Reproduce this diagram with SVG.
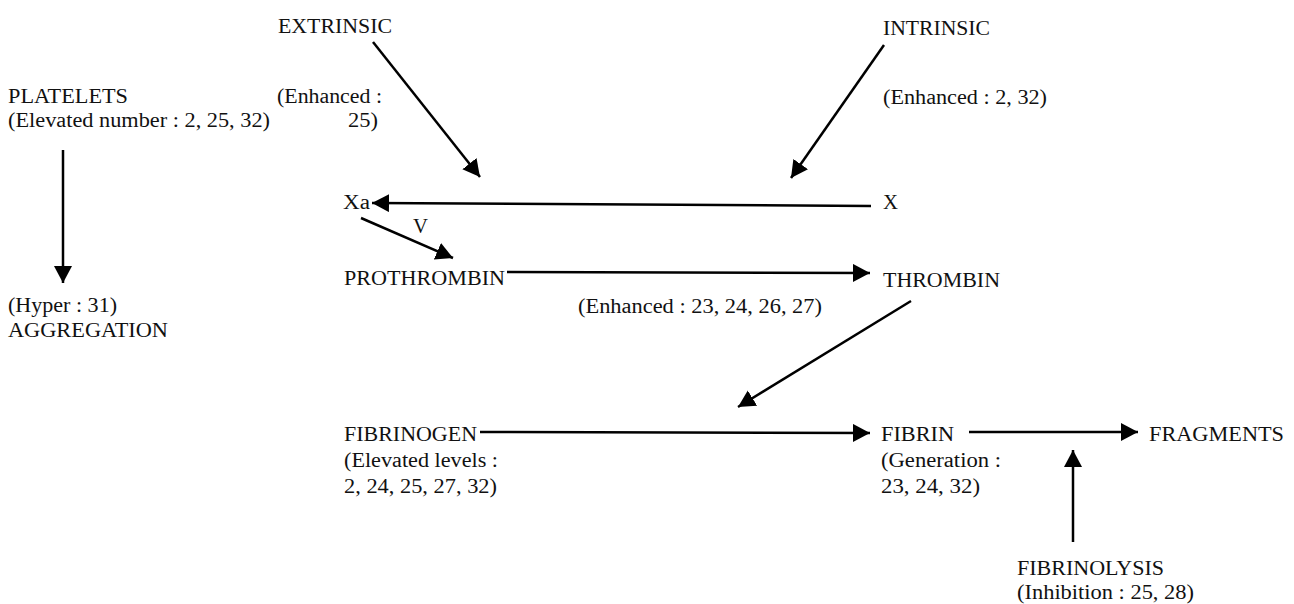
<svg xmlns="http://www.w3.org/2000/svg" width="1294" height="604" viewBox="0 0 1294 604">
<style>
text{font-family:"Liberation Serif","Times New Roman",serif;font-size:20px;fill:#111}
.c line{stroke:#000;stroke-width:2.5}
</style>
<defs>
<marker id="ah" markerUnits="userSpaceOnUse" markerWidth="19" markerHeight="20" refX="17" refY="9" orient="auto">
<path d="M0,0 L17,9 L0,18 z" fill="#000"/>
</marker>
</defs>
<rect width="1294" height="604" fill="#fff"/>
<g class="c">
<line x1="373" y1="42" x2="480" y2="177" marker-end="url(#ah)"/>
<line x1="884" y1="45" x2="791" y2="178" marker-end="url(#ah)"/>
<line x1="871" y1="206" x2="372" y2="203" marker-end="url(#ah)"/>
<line x1="361" y1="218" x2="453" y2="258" marker-end="url(#ah)"/>
<line x1="507" y1="272" x2="870" y2="273" marker-end="url(#ah)"/>
<line x1="911" y1="301" x2="738" y2="407" marker-end="url(#ah)"/>
<line x1="63" y1="150" x2="63" y2="283" marker-end="url(#ah)"/>
<line x1="480" y1="432" x2="870" y2="433" marker-end="url(#ah)"/>
<line x1="969" y1="432" x2="1138" y2="432" marker-end="url(#ah)"/>
<line x1="1073" y1="542" x2="1073" y2="450" marker-end="url(#ah)"/>
</g>
<g id="extrinsic"><text x="278" y="33" textLength="114" lengthAdjust="spacingAndGlyphs">EXTRINSIC</text></g>
<g id="platelets"><text x="8" y="103" textLength="120" lengthAdjust="spacingAndGlyphs">PLATELETS</text><text x="8" y="127" textLength="262" lengthAdjust="spacingAndGlyphs">(Elevated number : 2, 25, 32)</text></g>
<g id="extrinsic-note"><text x="277" y="103" textLength="105" lengthAdjust="spacingAndGlyphs">(Enhanced :</text><text x="348" y="127" textLength="30" lengthAdjust="spacingAndGlyphs">25)</text></g>
<g id="intrinsic"><text x="883" y="35" textLength="107" lengthAdjust="spacingAndGlyphs">INTRINSIC</text><text x="883" y="104" textLength="164" lengthAdjust="spacingAndGlyphs">(Enhanced : 2, 32)</text></g>
<g id="xa"><text x="343" y="209" textLength="27" lengthAdjust="spacingAndGlyphs">Xa</text></g>
<g id="x"><text x="883" y="209" textLength="15" lengthAdjust="spacingAndGlyphs">X</text></g>
<g id="v"><text x="413" y="233" textLength="15" lengthAdjust="spacingAndGlyphs">V</text></g>
<g id="prothrombin"><text x="344" y="285" textLength="161" lengthAdjust="spacingAndGlyphs">PROTHROMBIN</text></g>
<g id="thrombin"><text x="883" y="287" textLength="117" lengthAdjust="spacingAndGlyphs">THROMBIN</text></g>
<g id="enhanced-thrombin"><text x="578" y="313" textLength="244" lengthAdjust="spacingAndGlyphs">(Enhanced : 23, 24, 26, 27)</text></g>
<g id="aggregation"><text x="8" y="312" textLength="109" lengthAdjust="spacingAndGlyphs">(Hyper : 31)</text><text x="8" y="337" textLength="160" lengthAdjust="spacingAndGlyphs">AGGREGATION</text></g>
<g id="fibrinogen"><text x="344" y="441" textLength="133" lengthAdjust="spacingAndGlyphs">FIBRINOGEN</text><text x="344" y="467" textLength="154" lengthAdjust="spacingAndGlyphs">(Elevated levels :</text><text x="344" y="493" textLength="153" lengthAdjust="spacingAndGlyphs">2, 24, 25, 27, 32)</text></g>
<g id="fibrin"><text x="881" y="441" textLength="73" lengthAdjust="spacingAndGlyphs">FIBRIN</text><text x="881" y="467" textLength="120" lengthAdjust="spacingAndGlyphs">(Generation :</text><text x="881" y="493" textLength="99" lengthAdjust="spacingAndGlyphs">23, 24, 32)</text></g>
<g id="fragments"><text x="1149" y="441" textLength="135" lengthAdjust="spacingAndGlyphs">FRAGMENTS</text></g>
<g id="fibrinolysis"><text x="1017" y="575" textLength="147" lengthAdjust="spacingAndGlyphs">FIBRINOLYSIS</text><text x="1017" y="599" textLength="177" lengthAdjust="spacingAndGlyphs">(Inhibition : 25, 28)</text></g>
</svg>
